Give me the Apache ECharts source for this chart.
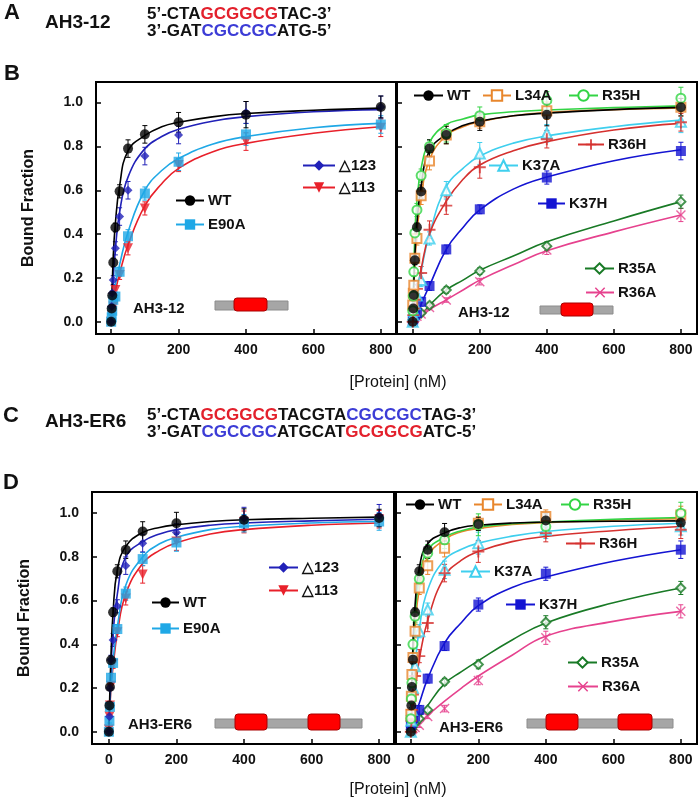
<!DOCTYPE html>
<html><head><meta charset="utf-8">
<script src="https://cdn.jsdelivr.net/npm/echarts@6/dist/echarts.min.js"></script>
<style>html,body{margin:0;padding:0;background:#fff}#c{width:700px;height:802px}</style>
</head><body><div id="c"></div>
<script>
// ---------- data ----------
const conc = [0, 1.56, 3.13, 6.25, 12.5, 25, 50, 100, 200, 400, 800];      // measured points (nM)
const curveX = [0, 6.25, 12.5, 25, 50, 100, 150, 200, 300, 400, 600, 800];  // where the fitted curves were read
const xTicks = [0, 200, 400, 600, 800];
const yTicks = [0, 0.2, 0.4, 0.6, 0.8, 1.0];

// Panel B, left (AH3-12): points, error bars, fitted curve
const bL_WT    = [0.00, 0.06, 0.12, 0.27, 0.43, 0.595, 0.79, 0.855, 0.91, 0.945, 0.98];
const bL_d123  = [0.00, 0.07, 0.13, 0.19, 0.335, 0.48, 0.60, 0.756, 0.852, 0.955, 0.98];
const bL_E90A  = [0.00, 0.02, 0.05, 0.10, 0.115, 0.228, 0.39, 0.585, 0.73, 0.855, 0.90];
const bL_d113  = [0.00, 0.03, 0.05, 0.07, 0.145, 0.213, 0.335, 0.517, 0.715, 0.822, 0.885];
const bL_WT_e   = [0, 0.01, 0.01, 0.02, 0.02, 0.03, 0.04, 0.04, 0.045, 0.06, 0.05];
const bL_d123_e = [0, 0.01, 0.01, 0.02, 0.03, 0.04, 0.04, 0.04, 0.04, 0.05, 0.05];
const bL_E90A_e = [0, 0.01, 0.01, 0.01, 0.02, 0.02, 0.03, 0.03, 0.04, 0.05, 0.04];
const bL_d113_e = [0, 0.01, 0.01, 0.01, 0.02, 0.02, 0.03, 0.03, 0.03, 0.04, 0.04];
const bL_WT_c   = [0, 0.30, 0.45, 0.62, 0.78, 0.85, 0.89, 0.91, 0.935, 0.95, 0.965, 0.975];
const bL_d123_c = [0, 0.20, 0.33, 0.50, 0.66, 0.79, 0.845, 0.878, 0.915, 0.936, 0.958, 0.968];
const bL_E90A_c = [0, 0.10, 0.17, 0.26, 0.41, 0.60, 0.69, 0.745, 0.81, 0.845, 0.885, 0.905];
const bL_d113_c = [0, 0.08, 0.14, 0.22, 0.35, 0.53, 0.63, 0.70, 0.775, 0.814, 0.86, 0.89];

// Panel B, right (AH3-12)
const bR_WT   = [0.00, 0.06, 0.122, 0.28, 0.431, 0.594, 0.79, 0.852, 0.913, 0.944, 0.979];
const bR_L34A = [0.076, 0.13, 0.167, 0.29, 0.38, 0.575, 0.733, 0.852, 0.913, 0.963, 0.979];
const bR_R35H = [0.05, 0.117, 0.228, 0.405, 0.51, 0.667, 0.80, 0.86, 0.94, 1.01, 1.02];
const bR_R36H = [0.00, 0.03, 0.06, 0.10, 0.15, 0.222, 0.42, 0.53, 0.705, 0.833, 0.91];
const bR_K37A = [0.00, 0.03, 0.05, 0.08, 0.12, 0.19, 0.38, 0.60, 0.768, 0.86, 0.913];
const bR_K37H = [0.00, 0.01, 0.02, 0.03, 0.04, 0.091, 0.163, 0.33, 0.513, 0.658, 0.779];
const bR_R35A = [0.00, 0.01, 0.015, 0.02, 0.03, 0.04, 0.075, 0.145, 0.231, 0.345, 0.548];
const bR_R36A = [0.00, 0.01, 0.015, 0.02, 0.025, 0.035, 0.065, 0.099, 0.183, 0.327, 0.487];
const bR_WT_e   = [0, 0.01, 0.01, 0.02, 0.02, 0.03, 0.04, 0.04, 0.04, 0.05, 0.04];
const bR_L34A_e = [0, 0.01, 0.02, 0.02, 0.03, 0.04, 0.04, 0.04, 0.03, 0.04, 0.04];
const bR_R35H_e = [0, 0.01, 0.02, 0.02, 0.03, 0.03, 0.03, 0.04, 0.04, 0.04, 0.05];
const bR_R36H_e = [0, 0.01, 0.01, 0.02, 0.02, 0.03, 0.04, 0.04, 0.05, 0.04, 0.04];
const bR_K37A_e = [0, 0.01, 0.01, 0.02, 0.02, 0.03, 0.03, 0.04, 0.05, 0.04, 0.05];
const bR_K37H_e = [0, 0, 0, 0.01, 0.01, 0.02, 0.02, 0.02, 0.02, 0.03, 0.04];
const bR_R35A_e = [0, 0, 0, 0, 0.01, 0.01, 0.01, 0.015, 0.015, 0.02, 0.03];
const bR_R36A_e = [0, 0, 0, 0, 0.01, 0.01, 0.01, 0.01, 0.015, 0.02, 0.03];
const bR_WT_c   = [0, 0.30, 0.45, 0.62, 0.78, 0.855, 0.895, 0.915, 0.94, 0.952, 0.968, 0.978];
const bR_L34A_c = [0, 0.26, 0.40, 0.57, 0.74, 0.85, 0.89, 0.913, 0.94, 0.955, 0.968, 0.976];
const bR_R35H_c = [0, 0.40, 0.55, 0.70, 0.82, 0.90, 0.925, 0.944, 0.958, 0.966, 0.977, 0.985];
const bR_R36H_c = [0, 0.07, 0.13, 0.24, 0.40, 0.55, 0.65, 0.715, 0.78, 0.822, 0.875, 0.905];
const bR_K37A_c = [0, 0.06, 0.12, 0.23, 0.40, 0.617, 0.70, 0.756, 0.815, 0.848, 0.89, 0.92];
const bR_K37H_c = [0, 0.01, 0.03, 0.08, 0.165, 0.33, 0.43, 0.51, 0.605, 0.66, 0.735, 0.785];
const bR_R35A_c = [0, 0.006, 0.012, 0.03, 0.075, 0.145, 0.19, 0.235, 0.30, 0.365, 0.46, 0.548];
const bR_R36A_c = [0, 0.005, 0.01, 0.02, 0.055, 0.10, 0.145, 0.19, 0.26, 0.324, 0.41, 0.487];

// Panel D, left (AH3-ER6)
const dL_WT    = [0.00, 0.12, 0.205, 0.327, 0.547, 0.734, 0.833, 0.916, 0.954, 0.97, 0.978];
const dL_d123  = [0.00, 0.07, 0.20, 0.33, 0.42, 0.574, 0.76, 0.863, 0.912, 0.977, 0.99];
const dL_E90A  = [0.00, 0.05, 0.114, 0.247, 0.315, 0.47, 0.632, 0.79, 0.866, 0.954, 0.962];
const dL_d113  = [0.01, 0.07, 0.12, 0.21, 0.31, 0.455, 0.61, 0.72, 0.87, 0.96, 0.972];
const dL_WT_e   = [0, 0.01, 0.01, 0.02, 0.02, 0.03, 0.04, 0.045, 0.05, 0.05, 0.04];
const dL_d123_e = [0, 0.01, 0.01, 0.02, 0.03, 0.03, 0.04, 0.04, 0.04, 0.05, 0.05];
const dL_E90A_e = [0, 0.01, 0.01, 0.02, 0.02, 0.02, 0.03, 0.03, 0.04, 0.04, 0.04];
const dL_d113_e = [0, 0.01, 0.01, 0.01, 0.02, 0.02, 0.03, 0.04, 0.04, 0.05, 0.04];
const dL_WT_c   = [0, 0.35, 0.55, 0.74, 0.848, 0.912, 0.935, 0.947, 0.962, 0.97, 0.977, 0.982];
const dL_d123_c = [0, 0.30, 0.45, 0.63, 0.80, 0.87, 0.905, 0.925, 0.945, 0.955, 0.965, 0.972];
const dL_E90A_c = [0, 0.22, 0.33, 0.48, 0.67, 0.80, 0.86, 0.89, 0.925, 0.94, 0.955, 0.962];
const dL_d113_c = [0, 0.20, 0.30, 0.45, 0.63, 0.77, 0.83, 0.865, 0.905, 0.925, 0.945, 0.955];

// Panel D, right (AH3-ER6)
const dR_WT   = [0.00, 0.12, 0.205, 0.33, 0.547, 0.734, 0.833, 0.913, 0.951, 0.967, 0.957];
const dR_L34A = [0.08, 0.163, 0.262, 0.34, 0.46, 0.658, 0.76, 0.84, 0.954, 0.985, 0.992];
const dR_R35H = [0.06, 0.15, 0.224, 0.40, 0.528, 0.70, 0.817, 0.878, 0.947, 0.939, 1.00];
const dR_R36H = [0.00, 0.05, 0.10, 0.17, 0.255, 0.346, 0.498, 0.726, 0.825, 0.909, 0.924];
const dR_K37A = [0.00, 0.05, 0.10, 0.20, 0.30, 0.46, 0.559, 0.741, 0.863, 0.924, 0.94];
const dR_K37H = [0.03, 0.04, 0.05, 0.06, 0.07, 0.10, 0.243, 0.392, 0.582, 0.723, 0.833];
const dR_R35A = [0.00, 0.01, 0.02, 0.03, 0.04, 0.06, 0.10, 0.229, 0.308, 0.501, 0.658];
const dR_R36A = [0.00, 0.005, 0.01, 0.015, 0.02, 0.03, 0.07, 0.106, 0.235, 0.43, 0.551];
const dR_WT_e   = [0, 0.01, 0.01, 0.02, 0.02, 0.03, 0.04, 0.04, 0.03, 0.03, 0.03];
const dR_L34A_e = [0, 0.01, 0.02, 0.02, 0.03, 0.03, 0.04, 0.04, 0.03, 0.03, 0.04];
const dR_R35H_e = [0, 0.01, 0.02, 0.02, 0.03, 0.03, 0.04, 0.04, 0.05, 0.04, 0.05];
const dR_R36H_e = [0, 0.01, 0.01, 0.02, 0.02, 0.03, 0.04, 0.04, 0.05, 0.04, 0.04];
const dR_K37A_e = [0, 0.01, 0.01, 0.02, 0.02, 0.03, 0.03, 0.04, 0.05, 0.04, 0.04];
const dR_K37H_e = [0, 0, 0, 0.01, 0.01, 0.02, 0.02, 0.02, 0.03, 0.03, 0.04];
const dR_R35A_e = [0, 0, 0, 0, 0.01, 0.01, 0.01, 0.015, 0.02, 0.03, 0.03];
const dR_R36A_e = [0, 0, 0, 0, 0.01, 0.01, 0.01, 0.015, 0.02, 0.03, 0.03];
const dR_WT_c   = [0, 0.40, 0.58, 0.75, 0.86, 0.91, 0.935, 0.945, 0.955, 0.96, 0.963, 0.965];
const dR_L34A_c = [0, 0.32, 0.48, 0.65, 0.80, 0.88, 0.915, 0.93, 0.948, 0.957, 0.968, 0.975];
const dR_R35H_c = [0, 0.36, 0.53, 0.70, 0.83, 0.89, 0.92, 0.937, 0.952, 0.96, 0.972, 0.98];
const dR_R36H_c = [0, 0.10, 0.19, 0.33, 0.51, 0.71, 0.785, 0.825, 0.87, 0.894, 0.92, 0.939];
const dR_K37A_c = [0, 0.17, 0.30, 0.47, 0.65, 0.787, 0.835, 0.863, 0.895, 0.916, 0.94, 0.954];
const dR_K37H_c = [0, 0.03, 0.07, 0.13, 0.243, 0.407, 0.50, 0.577, 0.66, 0.708, 0.78, 0.833];
const dR_R35A_c = [0, 0.015, 0.03, 0.06, 0.12, 0.22, 0.275, 0.325, 0.42, 0.498, 0.59, 0.658];
const dR_R36A_c = [0, 0.01, 0.02, 0.04, 0.075, 0.14, 0.20, 0.255, 0.35, 0.437, 0.505, 0.551];

// ---------- styles ----------
const FONT = "'Liberation Sans', Arial, sans-serif";
const PLUS = 'path://M4.2,0H5.8V4.2H10V5.8H5.8V10H4.2V5.8H0V4.2H4.2Z';
const CROSS = 'path://M0,1L1,0L5,4L9,0L10,1L6,5L10,9L9,10L5,6L1,10L0,9L4,5Z';
const sty = {
  'WT':   {symbol: 'circle', size: 10, color: '#000000'},
  '△123': {symbol: 'diamond', size: 9, color: '#2121b8'},
  'E90A': {symbol: 'rect', size: 10, color: '#1fa8e6'},
  '△113': {symbol: 'triangle', size: 10, color: '#e8202a', rotate: 180},
  'L34A': {symbol: 'emptyRect', size: 9, color: '#e8862c', empty: true},
  'R35H': {symbol: 'emptyCircle', size: 9, color: '#33d445', empty: true},
  'R36H': {symbol: PLUS, size: 12, color: '#d5312f'},
  'K37A': {symbol: 'emptyTriangle', size: 10, color: '#3fcfee', empty: true},
  'K37H': {symbol: 'rect', size: 10, color: '#1414d2'},
  'R35A': {symbol: 'emptyDiamond', size: 9, color: '#197a26', empty: true},
  'R36A': {symbol: CROSS, size: 10, color: '#e6428e'}
};

const panels = [
  {grid: {left: 96, top: 82, width: 300, height: 252}, xmin: -45, xmax: 845, ymin: -0.056, ymax: 1.094, yLabels: true,
   series: [['△113', bL_d113, bL_d113_e, bL_d113_c], ['E90A', bL_E90A, bL_E90A_e, bL_E90A_c],
            ['△123', bL_d123, bL_d123_e, bL_d123_c], ['WT', bL_WT, bL_WT_e, bL_WT_c]]},
  {grid: {left: 397, top: 82, width: 300, height: 252}, xmin: -47, xmax: 848, ymin: -0.056, ymax: 1.094, yLabels: false,
   series: [['R36A', bR_R36A, bR_R36A_e, bR_R36A_c], ['R35A', bR_R35A, bR_R35A_e, bR_R35A_c],
            ['K37H', bR_K37H, bR_K37H_e, bR_K37H_c], ['K37A', bR_K37A, bR_K37A_e, bR_K37A_c],
            ['R36H', bR_R36H, bR_R36H_e, bR_R36H_c], ['L34A', bR_L34A, bR_L34A_e, bR_L34A_c],
            ['R35H', bR_R35H, bR_R35H_e, bR_R35H_c], ['WT', bR_WT, bR_WT_e, bR_WT_c]]},
  {grid: {left: 92, top: 492, width: 302, height: 252}, xmin: -50, xmax: 844, ymin: -0.056, ymax: 1.097, yLabels: true,
   series: [['△113', dL_d113, dL_d113_e, dL_d113_c], ['E90A', dL_E90A, dL_E90A_e, dL_E90A_c],
            ['△123', dL_d123, dL_d123_e, dL_d123_c], ['WT', dL_WT, dL_WT_e, dL_WT_c]]},
  {grid: {left: 396, top: 492, width: 301, height: 252}, xmin: -44, xmax: 848, ymin: -0.056, ymax: 1.097, yLabels: false,
   series: [['R36A', dR_R36A, dR_R36A_e, dR_R36A_c], ['R35A', dR_R35A, dR_R35A_e, dR_R35A_c],
            ['K37H', dR_K37H, dR_K37H_e, dR_K37H_c], ['K37A', dR_K37A, dR_K37A_e, dR_K37A_c],
            ['R36H', dR_R36H, dR_R36H_e, dR_R36H_c], ['L34A', dR_L34A, dR_L34A_e, dR_L34A_c],
            ['R35H', dR_R35H, dR_R35H_e, dR_R35H_c], ['WT', dR_WT, dR_WT_e, dR_WT_c]]}
];

function errRender(params, api) {
  const x = api.value(0), lo = api.value(1), hi = api.value(2);
  const col = api.visual('color');
  if (hi - lo < 0.004) return {type: 'group', children: []};
  const p1 = api.coord([x, hi]), p2 = api.coord([x, lo]);
  const c = 2.5, st = {stroke: col, lineWidth: 1};
  return {type: 'group', children: [
    {type: 'line', shape: {x1: p1[0], y1: p1[1], x2: p2[0], y2: p2[1]}, style: st},
    {type: 'line', shape: {x1: p1[0] - c, y1: p1[1], x2: p1[0] + c, y2: p1[1]}, style: st},
    {type: 'line', shape: {x1: p2[0] - c, y1: p2[1], x2: p2[0] + c, y2: p2[1]}, style: st}
  ]};
}

const grids = [], xAxes = [], yAxes = [], series = [];
panels.forEach((p, i) => {
  grids.push(Object.assign({show: true, borderColor: '#000', borderWidth: 2, backgroundColor: 'transparent'}, p.grid));
  xAxes.push({
    type: 'value', gridIndex: i, min: p.xmin, max: p.xmax,
    axisLine: {show: false, onZero: false}, splitLine: {show: false},
    axisTick: {show: true, inside: true, length: 5, customValues: xTicks, lineStyle: {color: '#000', width: 1.5}},
    axisLabel: {customValues: xTicks, margin: 9, fontSize: 14, fontWeight: 'bold', color: '#111', fontFamily: FONT}
  });
  yAxes.push({
    type: 'value', gridIndex: i, min: p.ymin, max: p.ymax,
    axisLine: {show: false, onZero: false}, splitLine: {show: false},
    axisTick: {show: true, inside: true, length: 5, customValues: yTicks, lineStyle: {color: '#000', width: 1.5}},
    axisLabel: {show: p.yLabels, customValues: yTicks, margin: 13, fontSize: 14, fontWeight: 'bold', color: '#111', fontFamily: FONT,
                formatter: v => v.toFixed(1)},
    name: p.yLabels ? 'Bound Fraction' : '', nameLocation: 'middle', nameGap: 59,
    nameTextStyle: {fontSize: 16, fontWeight: 'bold', color: '#111', fontFamily: FONT}
  });
  p.series.forEach(([name, ys, es, cs]) => {
    const s = sty[name];
    const iStyle = s.empty ? {color: s.color, borderColor: s.color, borderWidth: 1.3} : {color: s.color, borderWidth: 0};
    series.push({
      type: 'custom', name: name + ' error', xAxisIndex: i, yAxisIndex: i, z: 1, silent: true,
      itemStyle: {color: s.color}, renderItem: errRender, encode: {x: 0, y: [1, 2]},
      data: conc.map((x, k) => [x, ys[k] - es[k], ys[k] + es[k]])
    });
    series.push({
      type: 'line', name: name, xAxisIndex: i, yAxisIndex: i, z: 2, silent: true,
      data: curveX.map((x, k) => [x, cs[k]]),
      smooth: 0.45, showSymbol: false,
      symbol: s.symbol, symbolSize: s.size, symbolRotate: s.rotate || 0,
      itemStyle: iStyle, lineStyle: {color: s.color, width: 1.6}
    });
    series.push({
      type: 'scatter', name: name + ' data', xAxisIndex: i, yAxisIndex: i, z: 3,
      data: conc.map((x, k) => [x, ys[k]]),
      symbol: s.symbol, symbolSize: s.size, symbolRotate: s.rotate || 0,
      itemStyle: iStyle
    });
  });
});

const legendSpots = [
  ['WT', 175, 201, 28], ['E90A', 175, 225, 28], ['△123', 302, 166, 32], ['△113', 302, 188, 32],
  ['WT', 413, 96, 29], ['L34A', 482, 96, 28], ['R35H', 568, 96, 29], ['R36H', 577, 145, 26],
  ['K37A', 488, 166, 29], ['K37H', 537, 204, 27], ['R35A', 584, 269, 29], ['R36A', 585, 293, 28],
  ['WT', 151, 603, 27], ['E90A', 151, 629, 27], ['△123', 268, 568, 29], ['△113', 268, 591, 29],
  ['WT', 405, 505, 28], ['L34A', 473, 505, 28], ['R35H', 560, 505, 28], ['R36H', 565, 544, 29],
  ['K37A', 460, 572, 29], ['K37H', 505, 605, 29], ['R35A', 567, 663, 29], ['R36A', 567, 687, 30]
];
const legends = legendSpots.map(([n, l, cy, w]) => ({
  data: [n], left: l, top: cy - 8, orient: 'horizontal', padding: 0, itemWidth: w, itemHeight: 13, itemGap: 0,
  selectedMode: false, textStyle: {fontSize: 15, fontWeight: 'bold', color: '#111', fontFamily: FONT, padding: [0, 0, 0, -1]}
}));

const T = (x, y, text, size, weight, align) => ({
  type: 'text', x: x, y: y, silent: true,
  style: {text: text, fill: '#111', font: `${weight || 'bold'} ${size}px ${FONT}`, textAlign: align || 'left', textVerticalAlign: 'middle'}
});
const rs = c => ({fill: c, fontSize: 17, fontWeight: 'bold', fontFamily: FONT});
const SEQ = (x, y, text) => ({
  type: 'text', x: x, y: y, silent: true,
  style: {text: text, font: `bold 17px ${FONT}`, textVerticalAlign: 'middle', rich: {k: rs('#111'), r: rs('#e3202c'), b: rs('#3c3cd6')}}
});
const R = (x, y, w, h, fill, stroke, r) => ({
  type: 'rect', silent: true, z: 10, shape: {x: x, y: y, width: w, height: h, r: r || 0},
  style: {fill: fill, stroke: stroke, lineWidth: 1}
});

const graphics = [
  T(4, 13, 'A', 22), T(45, 23, 'AH3-12', 19),
  SEQ(147, 14, '{k|5’-CTA}{r|GCGGCG}{k|TAC-3’}'),
  SEQ(147, 31, '{k|3’-GAT}{b|CGCCGC}{k|ATG-5’}'),
  T(4, 74, 'B', 22),
  T(3, 416, 'C', 22), T(45, 422, 'AH3-ER6', 19),
  SEQ(147, 415, '{k|5’-CTA}{r|GCGGCG}{k|TACGTA}{b|CGCCGC}{k|TAG-3’}'),
  SEQ(147, 432, '{k|3’-GAT}{b|CGCCGC}{k|ATGCAT}{r|GCGGCG}{k|ATC-5’}'),
  T(3, 483, 'D', 22),
  T(398, 383, '[Protein] (nM)', 16, 'normal', 'center'),
  T(398, 790, '[Protein] (nM)', 16, 'normal', 'center'),
  T(133, 309, 'AH3-12', 15), T(458, 313, 'AH3-12', 15),
  T(128, 725, 'AH3-ER6', 15), T(439, 728, 'AH3-ER6', 15),
  R(215, 301, 73, 9, '#a6a6a6', '#8c8c8c'), R(234, 298, 33, 13, '#ff0000', '#a80000', 3),
  R(540, 306, 73, 8, '#a6a6a6', '#8c8c8c'), R(561, 303, 32, 13, '#ff0000', '#a80000', 3),
  R(215, 719, 147, 9, '#a6a6a6', '#8c8c8c'), R(235, 714, 32, 16, '#ff0000', '#a80000', 3), R(308, 714, 32, 16, '#ff0000', '#a80000', 3),
  R(527, 719, 146, 9, '#a6a6a6', '#8c8c8c'), R(546, 714, 32, 16, '#ff0000', '#a80000', 3), R(618, 714, 34, 16, '#ff0000', '#a80000', 3)
];

const chart = echarts.init(document.getElementById('c'), null, {renderer: 'canvas'});
chart.setOption({
  animation: false,
  backgroundColor: '#fff',
  textStyle: {fontFamily: FONT},
  grid: grids, xAxis: xAxes, yAxis: yAxes,
  legend: legends,
  series: series,
  graphic: graphics
});
</script></body></html>
